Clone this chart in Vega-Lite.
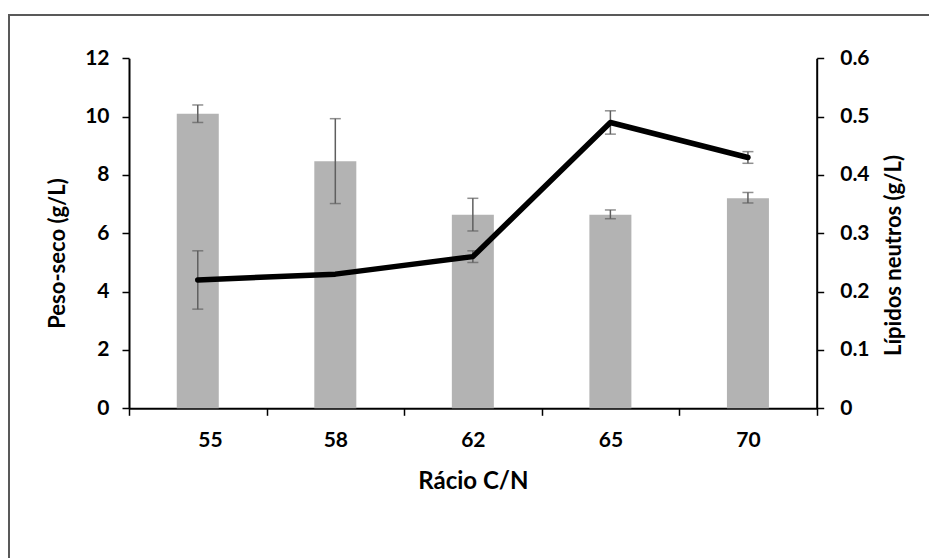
{
  "$schema": "https://vega.github.io/schema/vega-lite/v6.json",
  "width": 931,
  "height": 555,
  "autosize": "none",
  "padding": {"left": 9, "top": 15, "right": 0, "bottom": 0},
  "background": "white",
  "config": {
    "view": {"stroke": "#595959", "strokeWidth": 2},
    "font": "Lato",
    "axis": {
      "labelFont": "Lato", "labelFontSize": 21, "labelFontWeight": "bold", "labelColor": "black",
      "titleFont": "Lato", "titleFontSize": 22, "titleFontWeight": "bold", "titleColor": "black",
      "tickColor": "black", "tickWidth": 1.5, "tickSize": 7, "grid": false,
      "domain": true, "domainColor": "black", "domainWidth": 2
    }
  },
  "data": {
    "values": [
      {"i": 0, "cn": "55", "peso": 10.1, "pesoLo": 9.8, "pesoHi": 10.4, "lip": 0.22, "lipLo": 0.17, "lipHi": 0.27},
      {"i": 1, "cn": "58", "peso": 8.47, "pesoLo": 7.02, "pesoHi": 9.93, "lip": 0.23, "lipLo": 0.23, "lipHi": 0.23},
      {"i": 2, "cn": "62", "peso": 6.64, "pesoLo": 6.08, "pesoHi": 7.2, "lip": 0.26, "lipLo": 0.25, "lipHi": 0.27},
      {"i": 3, "cn": "65", "peso": 6.64, "pesoLo": 6.5, "pesoHi": 6.8, "lip": 0.49, "lipLo": 0.47, "lipHi": 0.51},
      {"i": 4, "cn": "70", "peso": 7.2, "pesoLo": 7.04, "pesoHi": 7.4, "lip": 0.43, "lipLo": 0.42, "lipHi": 0.44}
    ]
  },
  "layer": [
    {
      "encoding": {
        "x": {
          "field": "i", "type": "quantitative",
          "scale": {"domain": [-0.5, 4.5], "range": [120, 807.7], "padding": 0, "nice": false, "zero": false},
          "axis": {
            "values": [-0.5, 0.5, 1.5, 2.5, 3.5, 4.5],
            "labelExpr": "datum.value < 0 ? '55' : datum.value < 1 ? '58' : datum.value < 2 ? '62' : datum.value < 3 ? '65' : datum.value < 4 ? '70' : ''",
            "labelOffset": 68.8, "labelPadding": 14, "offset": -161.7,
            "title": "Rácio C/N", "titlePadding": 19, "titleFontSize": 24
          }
        }
      },
      "layer": [
        {
          "mark": {"type": "bar", "orient": "vertical", "width": 42, "color": "#b3b3b3"},
          "encoding": {
            "y": {
              "field": "peso", "type": "quantitative",
              "scale": {"domain": [0, 12], "range": [393.3, 43.3], "padding": 0, "nice": false, "zero": false},
              "axis": {
                "values": [0, 2, 4, 6, 8, 10, 12], "offset": -120,
                "labelPadding": 13, "title": "Peso-seco (g/L)", "titlePadding": 15, "titleY": 238
              }
            },
            "y2": {"datum": 0}
          }
        },
        {
          "mark": {"type": "rule", "color": "#5f5f5f", "strokeWidth": 1.5},
          "encoding": {"y": {"field": "pesoLo", "type": "quantitative"}, "y2": {"field": "pesoHi"}}
        },
        {
          "mark": {"type": "tick", "orient": "horizontal", "color": "#5f5f5f", "size": 11, "thickness": 1.5},
          "encoding": {"y": {"field": "pesoLo", "type": "quantitative"}}
        },
        {
          "mark": {"type": "tick", "orient": "horizontal", "color": "#5f5f5f", "size": 11, "thickness": 1.5},
          "encoding": {"y": {"field": "pesoHi", "type": "quantitative"}}
        }
      ]
    },
    {
      "encoding": {
        "x": {"field": "i", "type": "quantitative"}
      },
      "layer": [
        {
          "mark": {"type": "rule", "color": "#5f5f5f", "strokeWidth": 1.5},
          "encoding": {
            "y": {
              "field": "lipLo", "type": "quantitative",
              "scale": {"domain": [0, 0.6], "range": [393.3, 43.3], "padding": 0, "nice": false, "zero": false},
              "axis": {
                "orient": "right", "values": [0, 0.1, 0.2, 0.3, 0.4, 0.5, 0.6], "format": ".1~f",
                "offset": -123.3, "labelPadding": 16,
                "title": "Lípidos neutros (g/L)", "titleAngle": 270, "titleBaseline": "top", "titlePadding": 14, "titleY": 240
              }
            },
            "y2": {"field": "lipHi"}
          }
        },
        {
          "mark": {"type": "tick", "orient": "horizontal", "color": "#5f5f5f", "size": 11, "thickness": 1.5},
          "encoding": {"y": {"field": "lipLo", "type": "quantitative"}}
        },
        {
          "mark": {"type": "tick", "orient": "horizontal", "color": "#5f5f5f", "size": 11, "thickness": 1.5},
          "encoding": {"y": {"field": "lipHi", "type": "quantitative"}}
        },
        {
          "mark": {"type": "line", "color": "black", "strokeWidth": 5.5, "strokeCap": "round", "strokeJoin": "round"},
          "encoding": {"y": {"field": "lip", "type": "quantitative"}}
        }
      ]
    }
  ],
  "resolve": {"scale": {"y": "independent"}, "axis": {"y": "independent"}}
}
